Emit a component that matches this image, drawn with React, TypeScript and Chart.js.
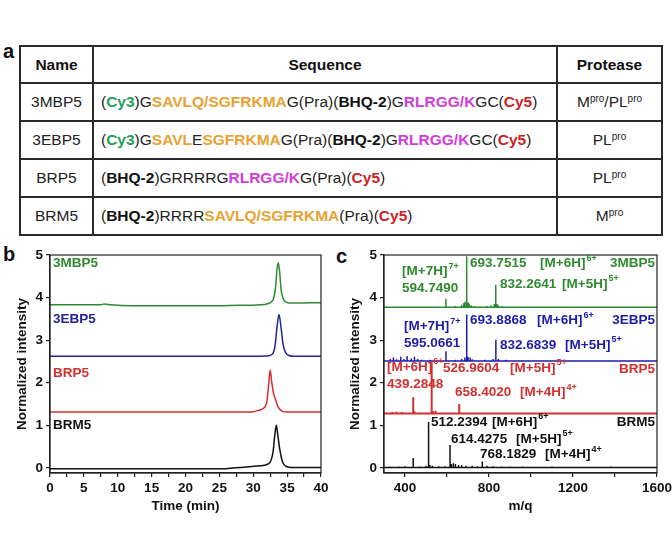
import React, { useEffect, useRef } from 'react';
import { Chart, registerables } from 'chart.js';
Chart.register(...registerables);

// ---------------- Panel a: table ----------------
type Seg = [string, 'n' | 'b' | 'g' | 'o' | 'm' | 'r'];
const tableHeader = ['Name', 'Sequence', 'Protease'];
const probeNames = ['3MBP5', '3EBP5', 'BRP5', 'BRM5'];
const probeSequences: Seg[][] = [
  [['(', 'n'], ['Cy3', 'g'], [')G', 'n'], ['SAVLQ/SGFRKMA', 'o'], ['G(Pra)(', 'n'], ['BHQ-2', 'b'], [')G', 'n'], ['RLRGG/K', 'm'], ['GC(', 'n'], ['Cy5', 'r'], [')', 'n']],
  [['(', 'n'], ['Cy3', 'g'], [')G', 'n'], ['SAVL', 'o'], ['E', 'n'], ['SGFRKMA', 'o'], ['G(Pra)(', 'n'], ['BHQ-2', 'b'], [')G', 'n'], ['RLRGG/K', 'm'], ['GC(', 'n'], ['Cy5', 'r'], [')', 'n']],
  [['(', 'n'], ['BHQ-2', 'b'], [')GRRRRG', 'n'], ['RLRGG/K', 'm'], ['G(Pra)(', 'n'], ['Cy5', 'r'], [')', 'n']],
  [['(', 'n'], ['BHQ-2', 'b'], [')RRRR', 'n'], ['SAVLQ/SGFRKMA', 'o'], ['(Pra)(', 'n'], ['Cy5', 'r'], [')', 'n']],
];
const probeProteases: [string, string][][] = [
  [['M', 'pro'], ['/PL', 'pro']],
  [['PL', 'pro']],
  [['PL', 'pro']],
  [['M', 'pro']],
];
const segColors: Record<string, string> = { n: '#222', b: '#111', g: '#24a058', o: '#e8a232', m: '#d23cd8', r: '#cc2222' };

// ---------------- Panel b: HPLC ----------------
const hplcNames = ['3MBP5', '3EBP5', 'BRP5', 'BRM5'];
const hplcColors = ['#2f8a2f', '#23239a', '#d42f2f', '#111111'];
const time3MBP5 = [0, 5, 7.5, 8, 9, 12, 15, 20, 25, 28, 30, 31, 32, 32.5, 33, 33.3, 33.5, 33.7, 33.9, 34.1, 34.4, 34.8, 35.3, 36, 37, 38, 40];
const int3MBP5 = [3.83, 3.83, 3.83, 3.85, 3.83, 3.81, 3.81, 3.81, 3.81, 3.82, 3.82, 3.83, 3.85, 3.88, 3.98, 4.25, 4.65, 4.82, 4.6, 4.2, 3.98, 3.9, 3.87, 3.87, 3.87, 3.88, 3.88];
const time3EBP5 = [0, 10, 20, 30, 32, 32.8, 33.2, 33.5, 33.8, 34.1, 34.4, 34.8, 35.3, 36, 40];
const int3EBP5 = [2.62, 2.62, 2.62, 2.62, 2.63, 2.67, 2.85, 3.3, 3.6, 3.3, 2.9, 2.7, 2.64, 2.62, 2.62];
const timeBRP5 = [0, 10, 20, 28, 30, 30.8, 31.5, 32, 32.3, 32.5, 32.7, 33, 33.3, 33.7, 34.2, 35, 36, 40];
const intBRP5 = [1.31, 1.31, 1.31, 1.31, 1.32, 1.35, 1.4, 1.55, 2.0, 2.3, 2.05, 1.75, 1.6, 1.42, 1.34, 1.31, 1.31, 1.31];
const timeBRM5 = [0, 10, 20, 26, 27, 29, 31, 32.3, 32.9, 33.2, 33.4, 33.6, 33.9, 34.3, 34.8, 35.5, 40];
const intBRM5 = [-0.02, -0.02, -0.02, -0.02, 0.0, 0.02, 0.05, 0.1, 0.35, 0.8, 1.0, 0.8, 0.45, 0.15, 0.04, 0.01, 0.01];
const timeTicks = [0, 2.5, 5, 7.5, 10, 12.5, 15, 17.5, 20, 22.5, 25, 27.5, 30, 32.5, 35, 37.5, 40];
const intensityTicks = [0, 1, 2, 3, 4, 5];

// ---------------- Panel c: MS ----------------
const msNames = ['3MBP5', '3EBP5', 'BRP5', 'BRM5'];
const msColors = ['#2f8a2f', '#1c1ca8', '#d42f2f', '#111111'];
const msBaselines = [3.77, 2.51, 1.28, 0.01];
const mz3MBP5 = [350, 420, 480, 540, 594.749, 640, 670, 680, 686, 693.7515, 700, 706, 715, 730, 790, 810, 825, 832.2641, 838, 845, 860, 900, 1000, 1100];
const h3MBP5 = [0.02, 0.015, 0.02, 0.02, 0.2, 0.03, 0.06, 0.1, 0.13, 1.2, 0.12, 0.09, 0.05, 0.03, 0.03, 0.05, 0.08, 0.53, 0.08, 0.05, 0.03, 0.02, 0.01, 0.01];
const mz3EBP5 = [330, 345, 360, 380, 395, 410, 430, 445, 460, 480, 520, 560, 595.0661, 640, 670, 685, 693.8868, 700, 710, 720, 780, 820, 832.6839, 845, 880, 950, 1020, 1100, 1200];
const h3EBP5 = [0.05, 0.08, 0.04, 0.1, 0.05, 0.12, 0.06, 0.1, 0.05, 0.03, 0.03, 0.02, 0.23, 0.03, 0.05, 0.08, 1.09, 0.1, 0.08, 0.04, 0.03, 0.05, 0.5, 0.05, 0.03, 0.02, 0.02, 0.02, 0.015];
const mzBRP5 = [340, 360, 385, 400, 439.2848, 445, 500, 526.9604, 533, 545, 600, 658.402, 700, 730];
const hBRP5 = [0.03, 0.04, 0.03, 0.02, 0.38, 0.05, 0.02, 1.2, 0.05, 0.06, 0.02, 0.22, 0.02, 0.02];
const mzBRM5 = [330, 370, 400, 439, 470, 500, 512.2394, 518, 530, 560, 590, 614.4275, 620, 630, 640, 655, 670, 690, 720, 745, 768.1829, 790, 820, 860, 900, 960, 1100, 1300, 1380, 1450];
const hBRM5 = [0.02, 0.02, 0.03, 0.22, 0.02, 0.04, 1.07, 0.06, 0.04, 0.03, 0.03, 0.53, 0.08, 0.1, 0.08, 0.06, 0.05, 0.04, 0.04, 0.03, 0.14, 0.04, 0.03, 0.02, 0.02, 0.02, 0.02, 0.01, 0.02, 0.01];
const mqTicks = [400, 600, 800, 1000, 1200, 1400, 1600];
const mqLabeled = [400, 800, 1200, 1600];

const FONT = '"Liberation Sans", Arial, sans-serif';
const AXIS = '#222';

type Lbl = { x: number; y: number; text: string; sup?: string; color: string; right?: boolean };

const hplcLabels: Lbl[] = [
  { x: 0.45, y: 4.81, text: '3MBP5', color: hplcColors[0] },
  { x: 0.45, y: 3.48, text: '3EBP5', color: hplcColors[1] },
  { x: 0.45, y: 2.23, text: 'BRP5', color: hplcColors[2] },
  { x: 0.45, y: 0.99, text: 'BRM5', color: hplcColors[3] },
];

const G = msColors[0], B = msColors[1], R = msColors[2], K = msColors[3];
const msLabels: Lbl[] = [
  { x: 386, y: 4.62, text: '[M+7H]', sup: '7+', color: G },
  { x: 386, y: 4.23, text: '594.7490', color: G },
  { x: 710, y: 4.81, text: '693.7515', color: G },
  { x: 1043, y: 4.81, text: '[M+6H]', sup: '6+', color: G },
  { x: 1590, y: 4.81, text: '3MBP5', color: G, right: true },
  { x: 852, y: 4.32, text: '832.2641', color: G },
  { x: 1148, y: 4.32, text: '[M+5H]', sup: '5+', color: G },
  { x: 395, y: 3.33, text: '[M+7H]', sup: '7+', color: B },
  { x: 395, y: 2.93, text: '595.0661', color: B },
  { x: 710, y: 3.47, text: '693.8868', color: B },
  { x: 1029, y: 3.47, text: '[M+6H]', sup: '6+', color: B },
  { x: 1590, y: 3.47, text: '3EBP5', color: B, right: true },
  { x: 852, y: 2.89, text: '832.6839', color: B },
  { x: 1162, y: 2.89, text: '[M+5H]', sup: '5+', color: B },
  { x: 314, y: 2.37, text: '[M+6H]', sup: '6+', color: R },
  { x: 581, y: 2.35, text: '526.9604', color: R },
  { x: 900, y: 2.35, text: '[M+5H]', sup: '5+', color: R },
  { x: 1590, y: 2.32, text: 'BRP5', color: R, right: true },
  { x: 314, y: 1.97, text: '439.2848', color: R },
  { x: 638, y: 1.78, text: '658.4020', color: R },
  { x: 948, y: 1.78, text: '[M+4H]', sup: '4+', color: R },
  { x: 524, y: 1.08, text: '512.2394', color: K },
  { x: 814, y: 1.08, text: '[M+6H]', sup: '6+', color: K },
  { x: 1590, y: 1.08, text: 'BRM5', color: K, right: true },
  { x: 619, y: 0.68, text: '614.4275', color: K },
  { x: 929, y: 0.68, text: '[M+5H]', sup: '5+', color: K },
  { x: 757, y: 0.31, text: '768.1829', color: K },
  { x: 1067, y: 0.31, text: '[M+4H]', sup: '4+', color: K },
];

function makeOverlay(labels: Lbl[]) {
  return {
    id: 'overlay',
    afterDatasetsDraw(chart: any) {
      const { ctx, chartArea: a, scales } = chart;
      ctx.save();
      ctx.strokeStyle = AXIS;
      ctx.lineWidth = 1.2;
      ctx.strokeRect(a.left, a.top, a.right - a.left, a.bottom - a.top);
      ctx.textBaseline = 'middle';
      labels.forEach((l) => {
        const px = scales.x.getPixelForValue(l.x);
        const py = scales.y.getPixelForValue(l.y);
        ctx.font = `bold 13.5px ${FONT}`;
        const w = ctx.measureText(l.text).width;
        let sw = 0;
        if (l.sup) {
          ctx.font = `bold 9px ${FONT}`;
          sw = ctx.measureText(l.sup).width + 1;
        }
        const sx = l.right ? px - w - sw : px;
        ctx.fillStyle = l.color;
        ctx.font = `bold 13.5px ${FONT}`;
        ctx.textAlign = 'left';
        ctx.fillText(l.text, sx, py);
        if (l.sup) {
          ctx.font = `bold 9px ${FONT}`;
          ctx.fillText(l.sup, sx + w + 1, py - 5);
        }
      });
      ctx.restore();
    },
  };
}

function axisCommon(title: string, tickVals: number[], labelFn: (v: number) => string) {
  return {
    type: 'linear' as const,
    afterBuildTicks: (ax: any) => {
      ax.ticks = tickVals.map((v) => ({ value: v }));
    },
    ticks: {
      autoSkip: false,
      maxRotation: 0,
      padding: 3,
      color: '#111',
      font: { family: FONT, size: 13.5, weight: 'bold' as const },
      callback: (v: any) => labelFn(Number(v)),
    },
    grid: { drawOnChartArea: false, drawTicks: true, tickLength: 4, color: AXIS, tickColor: AXIS, lineWidth: 1.2 },
    border: { display: true, color: AXIS, width: 1.2 },
    title: { display: true, text: title, color: '#111', font: { family: FONT, size: 13.5, weight: 'bold' as const } },
  };
}

function buildOptions(opts: {
  xmin: number; xmax: number; xTicks: number[]; xLabel: (v: number) => string; xTitle: string;
  yAxisW: number; yTitlePad: number; rightPad: number;
}) {
  const x: any = axisCommon(opts.xTitle, opts.xTicks, opts.xLabel);
  x.min = opts.xmin;
  x.max = opts.xmax;
  x.position = 'bottom';
  x.title.padding = { top: 0, bottom: 16 };
  x.afterFit = (ax: any) => {
    ax.height = 57;
    ax.paddingLeft = 0;
    ax.paddingRight = 0;
  };
  const y: any = axisCommon('Normalized intensity', intensityTicks, (v) => String(v));
  y.min = -0.12;
  y.max = 5;
  y.position = 'left';
  y.title.padding = { top: opts.yTitlePad, bottom: 0 };
  y.afterFit = (ax: any) => {
    ax.width = opts.yAxisW;
    ax.paddingTop = 0;
    ax.paddingBottom = 0;
  };
  return {
    animation: false as const,
    responsive: false,
    devicePixelRatio: 1,
    layout: { padding: { left: 0, top: 15, right: opts.rightPad, bottom: 0 } },
    plugins: { legend: { display: false }, tooltip: { enabled: false } },
    elements: { point: { radius: 0 } },
    scales: { x, y },
  };
}

function HplcChart() {
  const ref = useRef<HTMLCanvasElement>(null);
  useEffect(() => {
    const series = [
      [time3MBP5, int3MBP5],
      [time3EBP5, int3EBP5],
      [timeBRP5, intBRP5],
      [timeBRM5, intBRM5],
    ];
    const chart = new Chart(ref.current!, {
      type: 'line',
      data: {
        datasets: series.map(([t, v], i) => ({
          label: hplcNames[i],
          data: t.map((tt, k) => ({ x: tt, y: v[k] })),
          borderColor: hplcColors[i],
          borderWidth: 1.5,
          pointRadius: 0,
          fill: false,
          cubicInterpolationMode: 'monotone' as const,
        })),
      },
      options: buildOptions({
        xmin: 0, xmax: 40, xTicks: timeTicks,
        xLabel: (v) => (v % 5 === 0 ? String(v) : ''),
        xTitle: 'Time (min)', yAxisW: 50, yTitlePad: 14, rightPad: 15,
      }) as any,
      plugins: [makeOverlay(hplcLabels)],
    });
    return () => chart.destroy();
  }, []);
  return <canvas ref={ref} width={336} height={290} style={{ position: 'absolute', left: 0, top: 240, width: 336, height: 290 }} />;
}

function sticks(base: number, mz: number[], h: number[]) {
  const pts: { x: number; y: number }[] = [{ x: 300, y: base }];
  mz.forEach((m, i) => {
    pts.push({ x: m, y: base }, { x: m, y: base + h[i] }, { x: m, y: base });
  });
  pts.push({ x: 1600, y: base });
  return pts;
}

function MsChart() {
  const ref = useRef<HTMLCanvasElement>(null);
  useEffect(() => {
    const spectra = [
      [mz3MBP5, h3MBP5],
      [mz3EBP5, h3EBP5],
      [mzBRP5, hBRP5],
      [mzBRM5, hBRM5],
    ];
    const chart = new Chart(ref.current!, {
      type: 'line',
      data: {
        datasets: spectra.map(([m, h], i) => ({
          label: msNames[i],
          data: sticks(msBaselines[i], m, h),
          borderColor: msColors[i],
          borderWidth: i === 2 ? 2 : 1.5,
          borderJoinStyle: 'bevel' as const,
          pointRadius: 0,
          fill: false,
          tension: 0,
        })),
      },
      options: buildOptions({
        xmin: 300, xmax: 1600, xTicks: mqTicks,
        xLabel: (v) => (mqLabeled.includes(v) ? String(v) : ''),
        xTitle: 'm/q', yAxisW: 48, yTitlePad: 11, rightPad: 15,
      }) as any,
      plugins: [makeOverlay(msLabels)],
    });
    return () => chart.destroy();
  }, []);
  return <canvas ref={ref} width={336} height={290} style={{ position: 'absolute', left: 336, top: 240, width: 336, height: 290 }} />;
}

function Protease({ parts }: { parts: [string, string][] }) {
  return (
    <span>
      {parts.map(([t, s], i) => (
        <span key={i}>
          {t}
          <span style={{ fontSize: 10, verticalAlign: 5 }}>{s}</span>
        </span>
      ))}
    </span>
  );
}

const border = '2px solid #2a2a2a';

function Table() {
  const colW = [73, 464, 105];
  return (
    <table
      style={{
        position: 'absolute', left: 19, top: 45, width: 642, borderCollapse: 'collapse',
        tableLayout: 'fixed', fontFamily: FONT, fontSize: 15.5, color: '#222',
      }}
    >
      <colgroup>
        {colW.map((w, i) => (
          <col key={i} style={{ width: w }} />
        ))}
      </colgroup>
      <tbody>
        <tr style={{ height: 37 }}>
          {tableHeader.map((h, i) => (
            <td key={i} style={{ border, textAlign: 'center', fontWeight: 'bold', padding: 0, color: '#111' }}>{h}</td>
          ))}
        </tr>
        {probeNames.map((n, r) => (
          <tr key={n} style={{ height: 38 }}>
            <td style={{ border, textAlign: 'center', padding: 0 }}>{n}</td>
            <td style={{ border, textAlign: 'left', padding: '0 0 0 7px', whiteSpace: 'nowrap' }}>
              {probeSequences[r].map(([t, s], k) => (
                <span key={k} style={{ color: segColors[s], fontWeight: s === 'n' ? 'normal' : 'bold' }}>{t}</span>
              ))}
            </td>
            <td style={{ border, textAlign: 'center', padding: 0 }}>
              <Protease parts={probeProteases[r]} />
            </td>
          </tr>
        ))}
      </tbody>
    </table>
  );
}

const panelLetter = (t: string, left: number, top: number) => (
  <div style={{ position: 'absolute', left, top, fontFamily: FONT, fontWeight: 'bold', fontSize: 20, color: '#111', lineHeight: '20px' }}>{t}</div>
);

export default function App() {
  return (
    <div style={{ position: 'absolute', left: 0, top: 0, width: 672, height: 550, background: '#fff', overflow: 'hidden' }}>
      {panelLetter('a', 3, 41)}
      <Table />
      {panelLetter('b', 3, 244)}
      {panelLetter('c', 336, 246)}
      <HplcChart />
      <MsChart />
    </div>
  );
}
